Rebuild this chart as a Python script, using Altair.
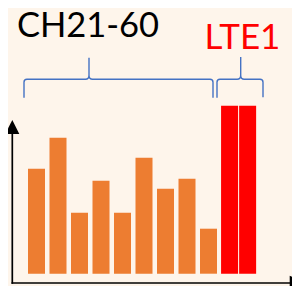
import altair as alt
import pandas as pd

# ---- data ----
groups = ["CH21-60"] * 9 + ["LTE1"] * 2
slots = [0, 1, 2, 3, 4, 5, 6, 7, 8, 8.98, 9.82]
values = [105, 136, 61, 93, 61, 116, 85, 95, 45, 168, 168]
group_colors = {"CH21-60": "#ED7D31", "LTE1": "#FF0000"}

BG = "#FEF5EB"
BLUE = "#4472C4"

df = pd.DataFrame({"group": groups, "slot": slots, "value": values})
one = pd.DataFrame({"k": [0]})

bars = alt.Chart(df).mark_bar(width=17).encode(
    x=alt.X("slot:Q", axis=None,
            scale=alt.Scale(domain=[0, 9], range=[28.5, 222], nice=False,
                            zero=False, padding=0)),
    y=alt.Y("value:Q", axis=None,
            scale=alt.Scale(domain=[0, 168], range=[265.7, 97.7], nice=False,
                            padding=0)),
    color=alt.Color("group:N", legend=None,
                    scale=alt.Scale(domain=list(group_colors.keys()),
                                    range=list(group_colors.values()))),
)

base = alt.Chart(one)

y_axis = base.mark_rule(color="black", strokeWidth=1.7).encode(
    x=alt.value(4.3), y=alt.value(125), y2=alt.value(275.8))
x_axis = base.mark_rule(color="black", strokeWidth=1.7).encode(
    x=alt.value(3.5), x2=alt.value(283), y=alt.value(275))
y_arrow = base.mark_point(shape="M0,-1L1,1L-1,1Z", size=196, filled=True,
                          color="black", opacity=1).encode(
    x=alt.value(4.3), y=alt.value(119))
x_arrow = base.mark_point(shape="M-1,-1L1,0L-1,1Z", size=213, filled=True,
                          color="black", opacity=1).encode(
    x=alt.value(289), y=alt.value(275))

brace1_path = ("M-65,18.5L-65,3Q-65,0 -62,0L-3.5,0Q0,0 0,-4L0,-21.5"
               "M0,-4Q0,0 3.5,0L121,0Q124,0 124,3L124,18.5")
brace2_path = ("M-23.7,18.5L-23.7,3Q-23.7,0 -20.7,0L-3.5,0Q0,0 0,-4L0,-22.3"
               "M0,-4Q0,0 3.5,0L19.3,0Q22.3,0 22.3,3L22.3,18")
brace1 = base.mark_point(shape=brace1_path, size=4, filled=False, stroke=BLUE,
                         strokeWidth=1.4, opacity=1).encode(
    x=alt.value(81), y=alt.value(71.3))
brace2 = base.mark_point(shape=brace2_path, size=4, filled=False, stroke=BLUE,
                         strokeWidth=1.4, opacity=1).encode(
    x=alt.value(232.7), y=alt.value(71.3))

title1 = base.mark_text(text="CH21-60", font="Lato", fontSize=34.5, color="black",
                        align="center", baseline="alphabetic").encode(
    x=alt.value(80), y=alt.value(28.7))
title2 = base.mark_text(text="LTE1", font="Lato", fontSize=35, color="#FF0000",
                        align="center", baseline="alphabetic").encode(
    x=alt.value(234.5), y=alt.value(41.3))

chart = alt.layer(
    bars, y_axis, x_axis, y_arrow, x_arrow, brace1, brace2, title1, title2
).properties(
    width=284, height=278,
    autosize=alt.AutoSizeParams(type="none"),
    padding=0,
    background=BG,
).configure_view(stroke=None)

chart.save("out.html", embed_options={"renderer": "svg", "actions": False})
